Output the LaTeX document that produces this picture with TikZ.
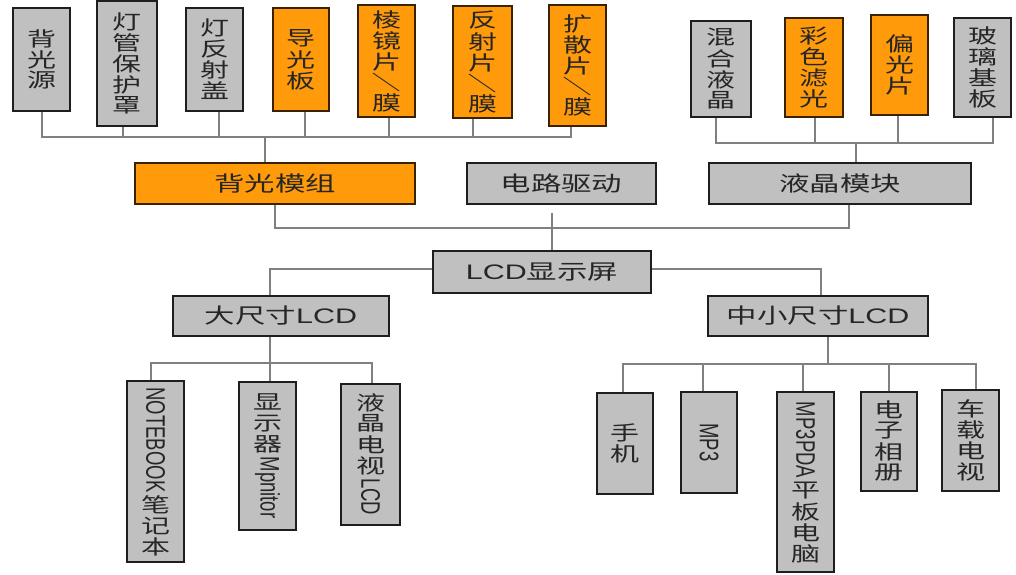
\documentclass[tikz,border=0pt]{standalone}
\usepackage{fontspec}
\setmainfont{Noto Sans CJK SC}
\newfontfamily\latinf{Liberation Sans}
\usepackage{graphicx}
\definecolor{boxgrey}{HTML}{C0C0C0}
\definecolor{boxorange}{HTML}{FF9A0A}
\definecolor{boxline}{HTML}{1E1E1E}
\definecolor{obline}{HTML}{3A2200}
\definecolor{lineg}{HTML}{808080}
\definecolor{txt}{HTML}{262626}
\newcommand\cj[1]{\hbox to\hsize{\hss\vbox to 21pt{\vss\hbox{#1}\vss}\hss}}
\newcommand\lt[1]{\kern2pt\hbox to\hsize{\hss\rotatebox{-90}{\latinf\fontsize{18.5}{18.5}\selectfont #1}\hss}\kern2pt}
\newcommand\rt[1]{\hbox to\hsize{\hss\rotatebox{-90}{#1}\hss}}
\def\vchars#1{\vcharsA#1\relax}
\def\vcharsA#1{\ifx#1\relax\else\cj{#1}\expandafter\vcharsA\fi}
\newcommand\vtxt[1]{\scalebox{1.45}[1]{\vbox{\hsize=30pt\offinterlineskip #1}}}
\newcommand\htxt[1]{\scalebox{1.45}[1]{#1}}
\newcommand\lat[1]{{\latinf #1}}
\begin{document}
\begin{tikzpicture}[x=1pt,y=-1pt,
  box/.style={draw=boxline, line width=1.5pt, inner sep=0pt, text=txt, font=\fontsize{20}{21}\selectfont},
  gbox/.style={box, fill=boxgrey},
  obox/.style={box, fill=boxorange, draw=obline},
  hbox/.style={font=\fontsize{21}{21}\selectfont},
  conn/.style={draw=lineg, line width=1.3pt}]
\fill[white] (0,0) rectangle (1016,574);
\useasboundingbox (0,0) rectangle (1016,574);
% top row, left group
\node[gbox, minimum width=57pt, minimum height=103pt] (t1) at (41.5,59.5) {\vtxt{\vchars{背光源}}};
\node[gbox, minimum width=60pt, minimum height=125pt] (t2) at (127,63.5) {\vtxt{\vchars{灯管保护罩}}};
\node[gbox, minimum width=57pt, minimum height=103pt] (t3) at (214.5,59.5) {\vtxt{\vchars{灯反射盖}}};
\node[obox, minimum width=56pt, minimum height=103pt] (t4) at (301,59.5) {\vtxt{\vchars{导光板}}};
\node[obox, minimum width=57pt, minimum height=112pt] (t5) at (386.5,61) {\vtxt{\vchars{棱镜片}\rt{／}\vchars{膜}}};
\node[obox, minimum width=59pt, minimum height=112pt] (t6) at (482.5,62) {\vtxt{\vchars{反射片}\rt{／}\vchars{膜}}};
\node[obox, minimum width=57pt, minimum height=121pt] (t7) at (577.5,65.5) {\vtxt{\vchars{扩散片}\rt{／}\vchars{膜}}};
% top row, right group
\node[gbox, minimum width=60pt, minimum height=96pt] (r1) at (721,69) {\vtxt{\vchars{混合液晶}}};
\node[obox, minimum width=58pt, minimum height=99pt] (r2) at (814,67.5) {\vtxt{\vchars{彩色滤光}}};
\node[obox, minimum width=57pt, minimum height=100pt] (r3) at (899.5,65) {\vtxt{\vchars{偏光片}}};
\node[gbox, minimum width=57pt, minimum height=99pt] (r4) at (982.5,67.5) {\vtxt{\vchars{玻璃基板}}};
% middle row
\node[obox, hbox, minimum width=280pt, minimum height=41pt] (m1) at (275,183.5) {\htxt{背光模组}};
\node[gbox, hbox, minimum width=189pt, minimum height=41pt] (m2) at (561.5,183.5) {\htxt{电路驱动}};
\node[gbox, hbox, minimum width=262pt, minimum height=41pt] (m3) at (840,183.5) {\htxt{液晶模块}};
\node[gbox, hbox, minimum width=218pt, minimum height=42pt] (lcd) at (542,272) {\htxt{\lat{LCD}显示屏}};
\node[gbox, hbox, minimum width=216pt, minimum height=40pt] (big) at (281,316) {\htxt{大尺寸\lat{LCD}}};
\node[gbox, hbox, minimum width=220pt, minimum height=40pt] (small) at (818,316) {\htxt{中小尺寸\lat{LCD}}};
% bottom left
\node[gbox, minimum width=57pt, minimum height=181pt] (c1) at (155.5,471.5) {\vtxt{\lt{NOTEBOOK}\vchars{笔记本}}};
\node[gbox, minimum width=57pt, minimum height=148pt] (c2) at (267.5,456) {\vtxt{\vchars{显示器}\lt{Mpnitor}}};
\node[gbox, minimum width=59pt, minimum height=141pt] (c3) at (370.5,454.5) {\vtxt{\vchars{液晶电视}\lt{LCD}}};
% bottom right
\node[gbox, minimum width=56pt, minimum height=101pt] (s1) at (625,443.5) {\vtxt{\vchars{手机}}};
\node[gbox, minimum width=56pt, minimum height=101pt] (s2) at (709,442.5) {\vtxt{\lt{MP3}}};
\node[gbox, minimum width=57pt, minimum height=180pt] (s3) at (805.5,482) {\vtxt{\lt{MP3PDA}\vchars{平板电脑}}};
\node[gbox, minimum width=56pt, minimum height=99pt] (s4) at (889,441.5) {\vtxt{\vchars{电子相册}}};
\node[gbox, minimum width=57pt, minimum height=101pt] (s5) at (970.5,440.5) {\vtxt{\vchars{车载电视}}};
% connectors, top left group
\draw[conn] (t1.south -| 42,0) -- (42,137) -| (t7.south -| 571,0);
\draw[conn] (t2.south -| 123,0) -- (123,137);
\draw[conn] (t3.south -| 219,0) -- (219,137);
\draw[conn] (t4.south -| 305,0) -- (305,137);
\draw[conn] (t5.south -| 389,0) -- (389,137);
\draw[conn] (t6.south -| 473,0) -- (473,137);
\draw[conn] (m1.north -| 265,0) -- (265,137);
% connectors, top right group
\draw[conn] (r1.south -| 716,0) -- (716,143) -| (r4.south -| 993,0);
\draw[conn] (r2.south -| 815,0) -- (815,143);
\draw[conn] (r3.south -| 898,0) -- (898,143);
\draw[conn] (m3.north -| 856,0) -- (856,143);
% middle
\draw[conn] (m1.south) -- (275,228) -| (m3.south -| 849,0);
\draw[conn, shorten <=8pt] (m2.south -| 552,0) -- (lcd.north -| 552,0);
\draw[conn] (lcd.west |- 0,269) -| (big.north -| 270,0);
\draw[conn] (lcd.east |- 0,269) -| (small.north -| 821,0);
% bottom left
\draw[conn] (big.south -| 270,0) -- (c2.north -| 270,0);
\draw[conn] (c1.north -| 151,0) -- (151,363) -| (c3.north -| 372,0);
% bottom right
\draw[conn] (small.south -| 828,0) -- (828,364);
\draw[conn] (s1.north -| 623,0) -- (623,364) -| (s5.north -| 976,0);
\draw[conn] (s2.north -| 703,0) -- (703,364);
\draw[conn] (s3.north -| 803,0) -- (803,364);
\draw[conn] (s4.north -| 889,0) -- (889,364);
\end{tikzpicture}
\end{document}
